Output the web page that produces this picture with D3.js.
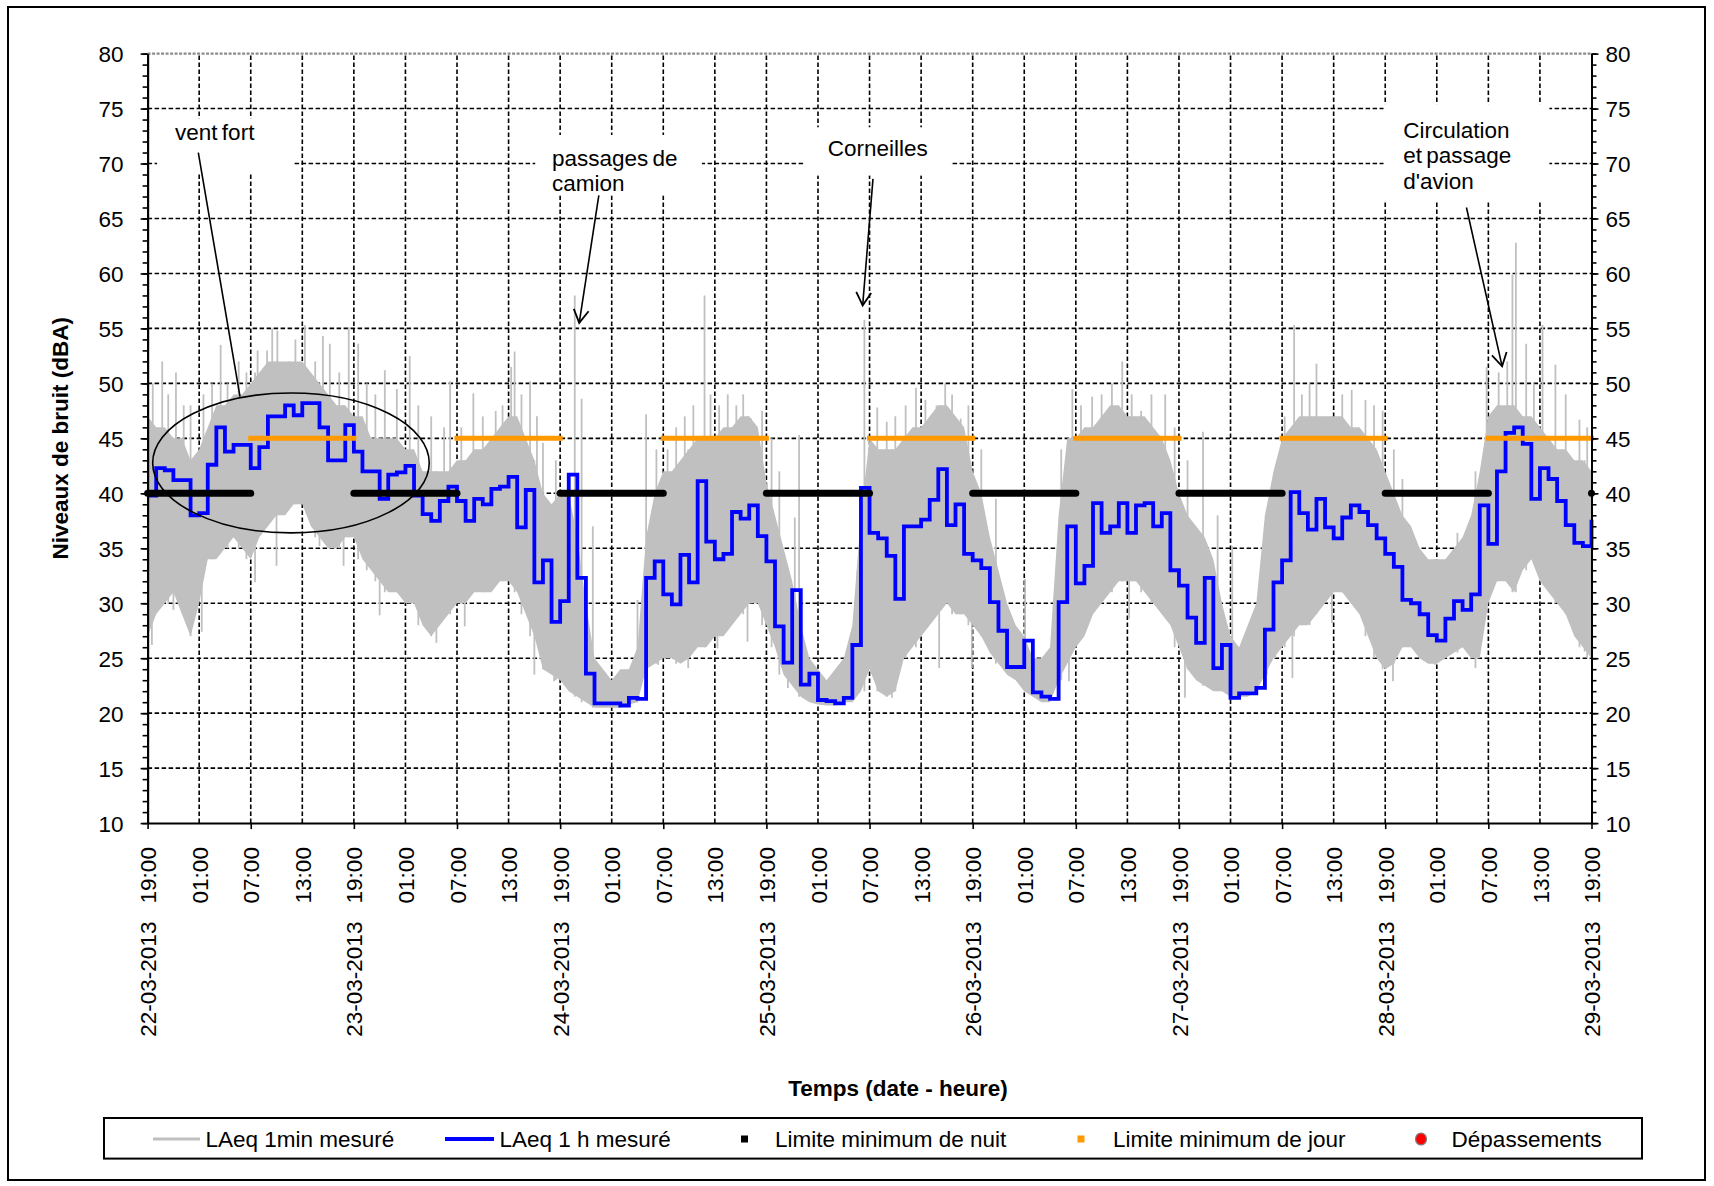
<!DOCTYPE html>
<html><head><meta charset="utf-8">
<script src="https://cdn.jsdelivr.net/npm/d3@7/dist/d3.min.js"></script>
<style>
body{margin:0;background:#fff;}
svg text{font-family:"Liberation Sans", Arial, Helvetica, sans-serif;}
</style></head><body>
<svg id="chart" width="1714" height="1186"></svg>
<script>
// ---------------- DATA ----------------
const hourLabels = ["19:00","01:00","07:00","13:00"];
const dateLabels = ["22-03-2013","23-03-2013","24-03-2013","25-03-2013","26-03-2013","27-03-2013","28-03-2013","29-03-2013"];
const yTickValues = [10,15,20,25,30,35,40,45,50,55,60,65,70,75,80];

// LAeq 1 h mesuré (hourly values, hour 0 = 22-03-2013 19:00)
const laeq1h = [
 39.8,42.3,42.1,41.2,41.2,38.0,38.2,42.6,46.0,43.8,
 44.4,44.4,42.3,44.2,47.0,47.0,48.0,47.1,48.2,48.2,
 46.0,43.0,43.0,46.2,43.8,42.0,42.0,39.5,41.7,41.9,
 42.5,39.8,38.1,37.5,39.3,40.6,39.3,37.5,39.5,39.0,
 40.4,40.6,41.5,36.9,40.3,31.9,33.9,28.3,30.2,41.7,
 32.3,23.6,20.9,20.9,20.9,20.7,21.4,21.3,32.3,33.8,
 30.8,29.9,34.4,31.9,41.1,35.6,34.0,34.5,38.3,37.7,
 38.9,36.1,33.8,27.9,24.6,31.2,22.6,23.6,21.2,21.1,
 20.9,21.4,26.2,40.5,36.4,35.9,34.3,30.4,37.0,37.0,
 37.6,39.4,42.2,37.1,39.0,34.5,33.9,33.2,30.1,27.5,
 24.2,24.2,26.6,21.9,21.5,21.3,30.1,37.0,31.8,33.4,
 39.1,36.4,37.0,39.1,36.4,38.9,39.1,37.0,38.2,33.0,
 31.6,28.7,26.4,32.3,24.1,26.2,21.4,21.8,21.8,22.3,
 27.6,31.9,33.9,40.1,38.2,36.7,39.5,36.9,35.9,37.8,
 38.9,38.3,37.1,35.9,34.5,33.3,30.3,30.0,29.0,27.1,
 26.6,28.6,30.2,29.4,30.8,38.9,35.4,42.0,45.5,46.0,
 44.5,39.5,42.3,41.3,39.3,37.1,35.5,35.2,37.6
];

// LAeq 1min mesuré : hourly upper / lower envelope of the dense 1-min trace
const laeq1minHigh = [
 47,46,46,45,45,43,44,46,48,48,
 49,49,50,51,52,52,52,52,52,51,
 50,49,48,48,47,47,45,45,45,45,
 44,44,42,42,42,42,43,43,44,44,
 45,46,47,47,45,43,40,39,40,40,
 36,30,25,24,23,24,24,26,36,40,
 42,42,43,44,45,45,45,46,46,47,
 47,46,41,38,35,32,28,25,24,23,
 24,25,28,38,45,44,44,44,45,46,
 46,47,48,48,47,46,42,40,36,33,
 30,28,27,25,25,26,38,45,45,46,
 46,47,48,48,47,47,47,46,45,43,
 40,38,37,36,34,30,27,26,28,30,
 38,42,45,46,47,47,47,47,47,47,
 46,46,45,44,42,40,38,37,35,34,
 34,34,35,36,38,42,47,48,48,48,
 47,47,46,45,44,44,43,43,42
];
const laeq1minLow = [
 27,29,30,31,29,27,30,34,34,35,
 36,35,34,36,37,38,38,39,39,37,
 36,35,35,36,36,34,33,32,31,31,
 30,30,28,27,28,29,30,30,31,31,
 31,32,32,31,29,27,24,23.5,23,22,
 21.5,21,20.5,20.5,20.5,20.5,20.8,21,24,24.5,
 25,25,24.5,25,26,26,27,27,28,29,
 30,30,28,26,23.5,22.5,21.5,21,20.8,20.7,
 20.7,21,21,22,24,22,21.5,22,25,26,
 27,28,29,30,29,29,28,27,25.5,24.5,
 23.5,23,22,21.5,21,21,23,24.5,26,27,
 29,30,31,32,32,32,31,30,29,28,
 26,24,23,22.5,22,22,21.5,21.5,21.5,22,
 23.5,25,26,27,28,28,29,30,31,31,
 30,29,27,25,24,24.5,26,26,25,24.5,
 24.5,25,25.5,26,25,25,30,32,32,31,
 33,34,32,31,30,29,27,26,25
];
// isolated 1-min peaks above the band: [hour, dBA]
const laeq1minPeaks = [
 [0.6,50],[1.7,52],[2.4,49],[3.3,51],[4.2,48],[5.0,48],[6.5,49],[7.5,50],[8.5,53.5],[9.3,50],
 [10.6,52],[11.5,51],[12.8,53],[13.9,53],[14.5,55],[15.1,54.8],[16.5,52],[17.2,54],
 [18.3,55.3],[19.5,52],[20.4,54.3],[21.2,53.6],[22.3,51],[23.4,55.1],[24.5,53.6],[25.5,50],
 [26.5,49],[27.6,51.2],[29,49.5],[30.5,52.5],[31.5,48],[33,47],[34.5,46],[35.2,50.2],
 [36.5,46],[37.9,49.1],[39,47],[40.5,47.5],[41.3,48],[42.3,51.5],[42.7,52.9],[43.5,49],
 [44.5,50.2],[45.3,47],[46,44.6],[47.5,43],[49.7,58.0],[50.5,48.6],[51.8,37],[57.0,30.3],
 [58.0,47.2],[59.2,44],[60.5,44],[61.5,46],[62.5,47],[63.5,48],[64.8,58.0],[65.5,49],
 [66.5,48],[67.5,49],[68.5,48],[69.3,49],[70.2,46.8],[71.5,47.5],[72.6,45],[73.5,42],
 [75.3,37.8],[75.8,45.3],[82.6,33],[83.4,55.8],[84.9,47.8],[86,46.5],[87,47],[88.2,48],
 [89.4,49.6],[90.5,48.5],[91.8,48],[92.8,50],[93.6,49],[94.6,46.8],[95.5,48],[97,44],
 [98.7,39.5],[102.1,32.2],[106.3,44],[107.6,49.5],[108.6,48],[109.9,48.8],[111,49],
 [112.2,50],[113.4,52],[114.5,49],[115.6,47.5],[116.8,49],[118.4,49],[119.5,46],[121,43],
 [122.8,45.6],[124.5,38],[126.2,35.2],[130.2,38],[131.2,40.4],[132.3,47],[133.4,55.3],
 [134.3,49],[135.2,50],[136,51.8],[137.8,43.7],[139,49],[140.1,49.4],[141.7,48.5],
 [142.7,48],[143.7,47.5],[145,44],[146,41.3],[152.4,36.4],[154.5,40],[155.8,51.5],
 [157.2,51],[158.2,52],[158.8,59.9],[159.2,62.8],[160.4,53.6],[161.3,50],[162.3,55.3],
 [163.8,51.7],[165,49],[166.6,46.7],[167.5,46]
];
// isolated 1-min dips below the band: [hour, dBA]
const laeq1minDips = [
 [0.5,26.2],[3,29.4],[6.3,27.4],[12.5,31.9],[15,33.4],[20,35.2],[22.8,33.4],[27,28.9],
 [33.6,26.4],[36.9,27.9],[45,23.5],[47.3,22.9],[59.4,24.4],[62.9,24.1],[66.3,25.9],
 [69.8,26.5],[74.5,22.3],[86.6,21.4],[92.1,24.1],[95.9,24.1],[107.2,22.9],[114.2,28.6],
 [120.7,21.4],[133.2,23.2],[137.8,28.2],[144.9,22.9],[149.8,24.4],[154.5,24.1],[167.2,25.6]
];

// limits
const nightLimit = 40;
const dayLimit = 45;
const nightPeriods = [[0,12],[24,36],[48,60],[72,84],[96,108],[120,132],[144,156],[168,168]];
const dayPeriods = [[12,24],[36,48],[60,72],[84,96],[108,120],[132,144],[156,168]];

const legendLabels = ["LAeq 1min mesuré","LAeq 1 h mesuré","Limite minimum de nuit","Limite minimum de jour","Dépassements"];

// ---------------- LAYOUT ----------------
const svg = d3.select("#chart");
const x = d3.scaleLinear().domain([0,168]).range([147.6,1591.5]);
const y = d3.scaleLinear().domain([10,80]).range([823.1,53.6]);
const FS = "22.5px";

svg.append("rect").attr("x",8).attr("y",7).attr("width",1697).attr("height",1173)
  .attr("fill","#fff").attr("stroke","#000").attr("stroke-width",2);

// gridlines
const grid = svg.append("g");
grid.append("g").selectAll("line").data(yTickValues.filter(v=>v>10&&v<80)).join("line")
  .attr("x1",x(0)).attr("x2",x(168)).attr("y1",d=>y(d)).attr("y2",d=>y(d))
  .attr("stroke","#000").attr("stroke-width",1.6).attr("stroke-dasharray","4.5,2.5");
grid.append("g").selectAll("line").data(d3.range(6,168,6)).join("line")
  .attr("x1",d=>x(d)).attr("x2",d=>x(d)).attr("y1",y(10)).attr("y2",y(80))
  .attr("stroke","#000").attr("stroke-width",1.6).attr("stroke-dasharray","4.5,2.5");
grid.append("line").attr("x1",x(0)).attr("x2",x(168)).attr("y1",y(80)).attr("y2",y(80))
  .attr("stroke","#8c8c8c").attr("stroke-width",2.4).attr("stroke-dasharray","3,1.5");

// annotation white boxes (data units)
const annBoxes = [[1.1,17.0,74.1,69.2],[45.1,64.5,72.6,67.1],[76.5,93.4,73.3,68.9],[143.8,163.1,75.4,66.5]];
svg.append("g").selectAll("rect").data(annBoxes).join("rect")
  .attr("x",d=>x(d[0])).attr("width",d=>x(d[1])-x(d[0]))
  .attr("y",d=>y(d[2])).attr("height",d=>y(d[3])-y(d[2])).attr("fill","#fff");

// gray 1-min trace
const area = d3.area().x((d,i)=>x(i)).y0((d,i)=>y(laeq1minLow[i])).y1(d=>y(d));
svg.append("path").datum(laeq1minHigh).attr("d",area).attr("fill","#c0c0c0");
svg.append("g").selectAll("line").data(laeq1minPeaks).join("line")
  .attr("x1",d=>x(d[0])).attr("x2",d=>x(d[0]))
  .attr("y1",d=>y(laeq1minLow[Math.round(d[0])])).attr("y2",d=>y(d[1]))
  .attr("stroke","#c0c0c0").attr("stroke-width",1.8);
svg.append("g").selectAll("line").data(laeq1minDips).join("line")
  .attr("x1",d=>x(d[0])).attr("x2",d=>x(d[0]))
  .attr("y1",d=>y(laeq1minHigh[Math.round(d[0])])).attr("y2",d=>y(d[1]))
  .attr("stroke","#c0c0c0").attr("stroke-width",1.8);

// blue hourly
const stepLine = d3.line().x((d,i)=>x(i)).y(d=>y(d)).curve(d3.curveStepAfter);
svg.append("path").datum(laeq1h).attr("d",stepLine).attr("fill","none")
  .attr("stroke","#0000ff").attr("stroke-width",3.8);

// limits
svg.append("g").selectAll("line").data(nightPeriods).join("line")
  .attr("x1",d=>x(d[0])).attr("x2",d=>x(d[1])).attr("y1",y(nightLimit)).attr("y2",y(nightLimit))
  .attr("stroke","#000").attr("stroke-width",7).attr("stroke-linecap","round");
svg.append("g").selectAll("line").data(dayPeriods).join("line")
  .attr("x1",d=>x(d[0])).attr("x2",d=>x(d[1])).attr("y1",y(dayLimit)).attr("y2",y(dayLimit))
  .attr("stroke","#ff9900").attr("stroke-width",5).attr("stroke-linecap","square");

// axes
function styleAxis(g){
  g.selectAll("path.domain").attr("stroke","#000").attr("stroke-width",2);
  g.selectAll(".tick line").attr("stroke","#000").attr("stroke-width",1.6);
  g.selectAll("text").attr("font-size",FS).attr("fill","#000")
    .style("font-family",'"Liberation Sans", Arial, sans-serif');
}
const gLm = svg.append("g").attr("transform",`translate(${x(0)},0)`)
  .call(d3.axisLeft(y).tickValues(d3.range(10,81,1)).tickSize(5).tickSizeOuter(0).tickFormat(""));
styleAxis(gLm);
const gL = svg.append("g").attr("transform",`translate(${x(0)},0)`)
  .call(d3.axisLeft(y).tickValues(yTickValues).tickSize(7).tickPadding(17).tickSizeOuter(0));
styleAxis(gL); gL.selectAll("text").attr("dy","0.36em");
const gRm = svg.append("g").attr("transform",`translate(${x(168)},0)`)
  .call(d3.axisRight(y).tickValues(d3.range(10,81,1)).tickSize(5).tickSizeOuter(0).tickFormat(""));
styleAxis(gRm);
const gR = svg.append("g").attr("transform",`translate(${x(168)},0)`)
  .call(d3.axisRight(y).tickValues(yTickValues).tickSize(7).tickPadding(7).tickSizeOuter(0));
styleAxis(gR); gR.selectAll("text").attr("dy","0.36em");

const gB = svg.append("g").attr("transform",`translate(0,${y(10)})`)
  .call(d3.axisBottom(x).tickValues(d3.range(0,169,12)).tickSize(6).tickSizeOuter(0).tickFormat(""));
styleAxis(gB);
const gBt = svg.append("g").attr("transform",`translate(0,${y(10)})`)
  .call(d3.axisBottom(x).tickValues(d3.range(0,169,6)).tickSize(0).tickFormat((d,i)=>hourLabels[i%4]));
gBt.select("path.domain").remove();
styleAxis(gBt);
gBt.selectAll("text").attr("transform","rotate(-90)").attr("x",-24).attr("y",0)
  .attr("dy","0.36em").attr("text-anchor","end");
const gBd = svg.append("g").attr("transform",`translate(0,${y(10)})`)
  .call(d3.axisBottom(x).tickValues(d3.range(0,169,24)).tickSize(0).tickFormat((d,i)=>dateLabels[i]));
gBd.select("path.domain").remove();
styleAxis(gBd);
gBd.selectAll("text").attr("transform","rotate(-90)").attr("x",-98.5).attr("y",0)
  .attr("dy","0.36em").attr("text-anchor","end");

// axis titles
svg.append("text").attr("transform",`translate(60,${(y(10)+y(80))/2}) rotate(-90)`)
  .attr("text-anchor","middle").attr("dy","0.36em").attr("font-size",FS).attr("font-weight","bold")
  .text("Niveaux de bruit (dBA)");
svg.append("text").attr("x",898).attr("y",1096).attr("text-anchor","middle")
  .attr("font-size",FS).attr("font-weight","bold").text("Temps (date - heure)");

// annotations
const ann = svg.append("g");
function arrow(h1,v1,h2,v2,head){
  const X1=x(h1),Y1=y(v1),X2=x(h2),Y2=y(v2);
  ann.append("line").attr("x1",X1).attr("y1",Y1).attr("x2",X2).attr("y2",Y2)
    .attr("stroke","#000").attr("stroke-width",1.6);
  if(head){
    const a=Math.atan2(Y1-Y2,X1-X2), L=15, s=Math.PI/6;
    ann.append("path").attr("d",`M${X2+L*Math.cos(a-s)},${Y2+L*Math.sin(a-s)}L${X2},${Y2}L${X2+L*Math.cos(a+s)},${Y2+L*Math.sin(a+s)}`)
      .attr("fill","none").attr("stroke","#000").attr("stroke-width",1.8);
  }
}
ann.append("ellipse").attr("cx",x(16.68)).attr("cy",y(42.76))
  .attr("rx",x(16.09)-x(0)).attr("ry",y(10)-y(16.36))
  .attr("fill","none").attr("stroke","#000").attr("stroke-width",1.6);
arrow(5.9,71.0,10.75,48.8,false);
arrow(52.5,67.1,50.22,55.5,true);
arrow(84.4,68.6,83.2,57.1,true);
arrow(153.45,66.0,157.6,51.55,true);
function label(h,v,txt,anchor){
  ann.append("text").attr("x",x(h)).attr("y",y(v)).attr("text-anchor",anchor||"start")
    .attr("font-size",FS).attr("word-spacing","-2px").attr("fill","#000").text(txt);
}
label(3.2,72.1,"vent fort");
label(47.05,69.8,"passages de");
label(47.05,67.5,"camion");
label(84.95,70.65,"Corneilles","middle");
label(146.1,72.3,"Circulation");
label(146.1,70.05,"et passage");
label(146.1,67.65,"d'avion");

// legend
const lg = svg.append("g");
lg.append("rect").attr("x",104).attr("y",1118).attr("width",1538).attr("height",40.6)
  .attr("fill","#fff").attr("stroke","#000").attr("stroke-width",2);
const ly = 1139;
lg.append("line").attr("x1",153).attr("x2",200).attr("y1",ly).attr("y2",ly).attr("stroke","#c0c0c0").attr("stroke-width",3);
lg.append("line").attr("x1",445).attr("x2",494).attr("y1",ly).attr("y2",ly).attr("stroke","#0000ff").attr("stroke-width",4);
lg.append("rect").attr("x",741).attr("y",ly-3.5).attr("width",7).attr("height",7).attr("fill","#000");
lg.append("rect").attr("x",1077.5).attr("y",ly-3.5).attr("width",7).attr("height",7).attr("fill","#ff9900");
lg.append("ellipse").attr("cx",1421).attr("cy",ly).attr("rx",5.5).attr("ry",6).attr("fill","#ff0000").attr("stroke","#808080").attr("stroke-width",1.2);
const lx = [205.5,499.5,775,1113,1451.6];
lg.selectAll("text").data(legendLabels).join("text")
  .attr("x",(d,i)=>lx[i]).attr("y",ly).attr("dy","0.36em").attr("font-size",FS).attr("fill","#000").text(d=>d);
</script>
</body></html>
